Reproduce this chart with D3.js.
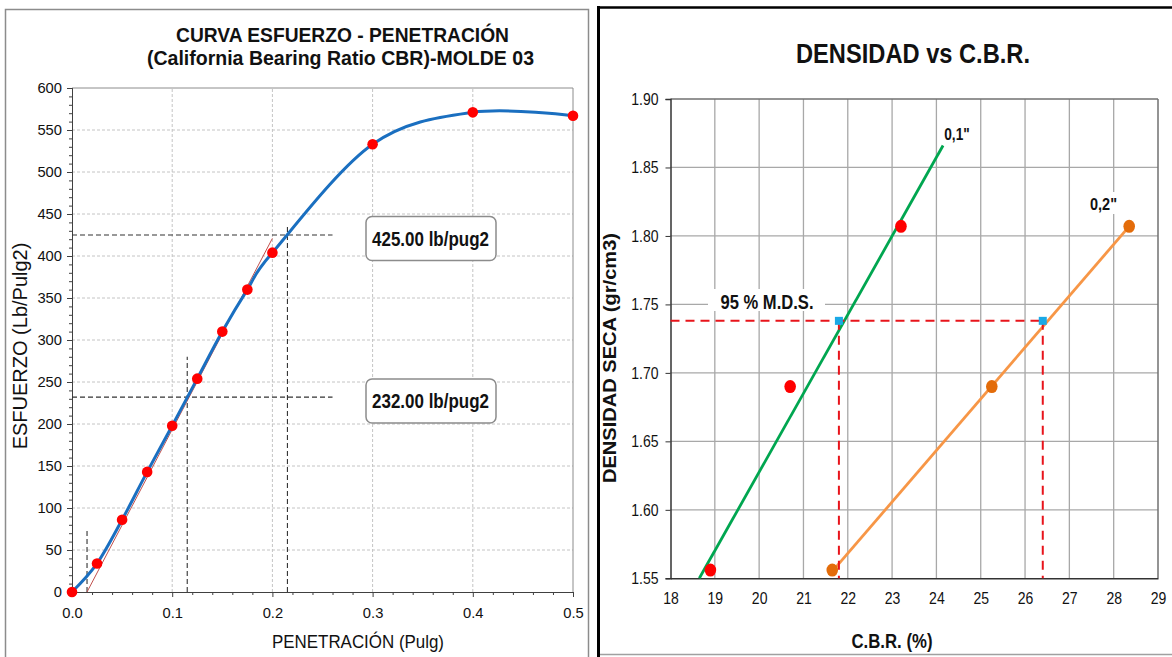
<!DOCTYPE html>
<html><head><meta charset="utf-8">
<script src="https://cdn.jsdelivr.net/npm/d3@7"></script>
<style>
body{margin:0;background:#fff}
svg{display:block}
text{font-family:"Liberation Sans",Arial,sans-serif;fill:#111}
</style>
</head><body>
<svg id="chart" width="1172" height="657"></svg>
<script>
// ---------- LEFT CHART DATA ----------
const penetration = [0, 0.025, 0.05, 0.075, 0.1, 0.125, 0.15, 0.175, 0.2, 0.3, 0.4, 0.5];
const stress      = [0, 34, 86, 143, 198, 254, 310, 360, 404, 533, 571, 567];
const penTicks    = [0, 0.1, 0.2, 0.3, 0.4, 0.5];
const penMinor    = [0.02,0.04,0.06,0.08,0.12,0.14,0.16,0.18,0.22,0.24,0.26,0.28,0.32,0.34,0.36,0.38,0.42,0.44,0.46,0.48];
const stressTicks = [0, 50, 100, 150, 200, 250, 300, 350, 400, 450, 500, 550, 600];
const stressMinor = [10,20,30,40,60,70,80,90,110,120,130,140,160,170,180,190,210,220,230,240,260,270,280,290,310,320,330,340,360,370,380,390,410,420,430,440,460,470,480,490,510,520,530,540,560,570,580,590];
const correctionLine = [[0.015, 0], [0.2, 421]];
const correctedPen   = [0.015, 0.115, 0.215];
const correctedTop   = [74, 280, 437];
const cbrStress      = [232, 425];
const cbrStressEnd   = 0.26;
const cbrLabels      = ["232.00 lb/pug2", "425.00 lb/pug2"];

// ---------- RIGHT CHART DATA ----------
const dryDensity = [1.556, 1.690, 1.807];
const cbr01      = [18.9, 20.7, 23.2];
const cbr02      = [21.65, 25.25, 28.35];
const fit01      = [[18.65, 1.55], [24.15, 1.866]];
const fit02      = [[21.65, 1.555], [28.35, 1.807]];
const mdsDensity = 1.738;
const cbrAtMds   = [21.8, 26.4];
const cbrTicks   = [18,19,20,21,22,23,24,25,26,27,28,29];
const densTicks  = [1.55,1.60,1.65,1.70,1.75,1.80,1.85,1.90];

const svg = d3.select("#chart");

function squeeze(sel, k){
  sel.each(function(){
    const w = this.getComputedTextLength();
    d3.select(this).attr("textLength", w*k).attr("lengthAdjust","spacingAndGlyphs");
  });
}
function label(g, x, y, str, o){
  const t = g.append("text").attr("x", x).attr("y", y).text(str)
    .attr("text-anchor", o.anchor || "middle")
    .style("font-size", o.size + "px")
    .style("font-weight", o.bold ? "bold" : "normal");
  if (o.rotate) t.attr("transform", `rotate(-90,${x},${y})`);
  if (o.width) t.attr("textLength", o.width).attr("lengthAdjust","spacingAndGlyphs");
  return t;
}

// ---------- PANEL FRAMES ----------
svg.append("rect").attr("x",5.5).attr("y",9.5).attr("width",583).attr("height",700)
  .attr("fill","none").attr("stroke","#8c8c8c").attr("stroke-width",1.5);
svg.append("line").attr("x1",598.5).attr("x2",598.5).attr("y1",6).attr("y2",657)
  .attr("stroke","#000").attr("stroke-width",3);
svg.append("line").attr("x1",597).attr("x2",1172).attr("y1",7.5).attr("y2",7.5)
  .attr("stroke","#000").attr("stroke-width",2.5);
svg.append("line").attr("x1",600).attr("x2",1172).attr("y1",654.5).attr("y2",654.5)
  .attr("stroke","#a0a0a0").attr("stroke-width",1.5);

// ================= LEFT CHART =================
const L = svg.append("g");
const xL = d3.scaleLinear().domain([0, 0.5]).range([72, 573]);
const yL = d3.scaleLinear().domain([0, 600]).range([592, 88]);

// grid
L.append("g").selectAll("line").data(penTicks.slice(1,5)).join("line")
  .attr("x1", d=>xL(d)).attr("x2", d=>xL(d)).attr("y1", yL(0)).attr("y2", yL(600))
  .attr("stroke","#c4c4c4").attr("stroke-dasharray","3,2");
L.append("g").selectAll("line").data(stressTicks.slice(1,12)).join("line")
  .attr("x1", xL(0)).attr("x2", xL(0.5)).attr("y1", d=>yL(d)).attr("y2", d=>yL(d))
  .attr("stroke","#c4c4c4").attr("stroke-dasharray","3,2");
// frame top/right
L.append("line").attr("x1",xL(0)).attr("x2",xL(0.5)).attr("y1",yL(600)).attr("y2",yL(600)).attr("stroke","#8c8c8c");
L.append("line").attr("x1",xL(0.5)).attr("x2",xL(0.5)).attr("y1",yL(600)).attr("y2",yL(0)).attr("stroke","#8c8c8c");

// axes
const axL = L.append("g").attr("transform",`translate(${xL(0)},0)`)
  .call(d3.axisLeft(yL).tickValues(stressTicks).tickSize(5).tickFormat(d3.format("d")));
const axLm = L.append("g").attr("transform",`translate(${xL(0)},0)`)
  .call(d3.axisLeft(yL).tickValues(stressMinor).tickSize(3).tickFormat(""));
const axB = L.append("g").attr("transform",`translate(0,${yL(0)})`)
  .call(d3.axisBottom(xL).tickValues(penTicks).tickSize(5).tickFormat(d3.format(".1f")));
const axBm = L.append("g").attr("transform",`translate(0,${yL(0)})`)
  .call(d3.axisBottom(xL).tickValues(penMinor).tickSize(3).tickFormat(""));
[axL, axLm, axB, axBm].forEach(a=>{
  a.select(".domain").attr("stroke","#404040");
  a.selectAll(".tick line").attr("stroke","#404040");
});
axL.selectAll("text").style("font-size","15.5px").attr("x",-10).attr("fill","#222").call(squeeze, 0.95);
axB.selectAll("text").style("font-size","15.5px").attr("y",15).attr("fill","#222").call(squeeze, 0.95);

// corrected penetration guides (dashed)
L.append("g").selectAll("line").data(correctedPen).join("line")
  .attr("x1", d=>xL(d)).attr("x2", d=>xL(d)).attr("y1", yL(0)).attr("y2", (d,i)=>yL(correctedTop[i]))
  .attr("stroke","#333").attr("stroke-width",1.1).attr("stroke-dasharray","5,3");
L.append("g").selectAll("line").data(cbrStress).join("line")
  .attr("x1", xL(0)).attr("x2", xL(cbrStressEnd)).attr("y1", d=>yL(d)).attr("y2", d=>yL(d))
  .attr("stroke","#333").attr("stroke-width",1.1).attr("stroke-dasharray","5,3");

// correction line (thin red)
L.append("path").datum(correctionLine)
  .attr("d", d3.line().x(d=>xL(d[0])).y(d=>yL(d[1])))
  .attr("stroke","#c0504d").attr("stroke-width",1).attr("fill","none");

// curve
const ptsL = penetration.map((p,i)=>[p, stress[i]]);
L.append("path").datum(ptsL)
  .attr("d", d3.line().x(d=>xL(d[0])).y(d=>yL(d[1])).curve(d3.curveCatmullRom.alpha(0)))
  .attr("stroke","#1a6fc0").attr("stroke-width",3).attr("fill","none");
L.append("g").selectAll("circle").data(ptsL).join("circle")
  .attr("cx", d=>xL(d[0])).attr("cy", d=>yL(d[1])).attr("r",5.3).attr("fill","#ff0000");

// annotation boxes
const boxY = [379, 216.5];
cbrLabels.forEach((s,i)=>{
  L.append("rect").attr("x",366).attr("y",boxY[i]).attr("width",130).attr("height",44)
    .attr("rx",6).attr("fill","#fff").attr("stroke","#8c8c8c").attr("stroke-width",1.5);
  label(L, 430.5, boxY[i]+29, s, {size:19.5, bold:true, width:117});
});

// titles
label(L, 342.5, 42, "CURVA ESFUERZO - PENETRACIÓN", {size:19.5, bold:true, width:333});
label(L, 340.5, 64.5, "(California Bearing Ratio CBR)-MOLDE 03", {size:19.5, bold:true, width:387});
label(L, 358, 648, "PENETRACIÓN (Pulg)", {size:19, width:172});
label(L, 26.5, 346, "ESFUERZO (Lb/Pulg2)", {size:20, rotate:true});

// ================= RIGHT CHART =================
const R = svg.append("g");
const xR = d3.scaleLinear().domain([18, 29]).range([670.5, 1158]);
const yR = d3.scaleLinear().domain([1.55, 1.90]).range([578.3, 99]);

R.append("g").selectAll("line").data(cbrTicks.slice(1,11)).join("line")
  .attr("x1", d=>xR(d)).attr("x2", d=>xR(d)).attr("y1", yR(1.55)).attr("y2", yR(1.90))
  .attr("stroke","#a8a8a8").attr("stroke-width",1.3);
R.append("g").selectAll("line").data(densTicks.slice(1,7)).join("line")
  .attr("x1", xR(18)).attr("x2", xR(29)).attr("y1", d=>yR(d)).attr("y2", d=>yR(d))
  .attr("stroke","#a8a8a8").attr("stroke-width",1.3);
R.append("line").attr("x1",xR(18)).attr("x2",xR(29)).attr("y1",yR(1.90)).attr("y2",yR(1.90)).attr("stroke","#707070").attr("stroke-width",1.5);
R.append("line").attr("x1",xR(29)).attr("x2",xR(29)).attr("y1",yR(1.90)).attr("y2",yR(1.55)).attr("stroke","#707070").attr("stroke-width",1.5);

const axRL = R.append("g").attr("transform",`translate(${xR(18)},0)`)
  .call(d3.axisLeft(yR).tickValues(densTicks).tickSize(5).tickFormat(d3.format(".2f")));
const axRB = R.append("g").attr("transform",`translate(0,${yR(1.55)})`)
  .call(d3.axisBottom(xR).tickValues(cbrTicks).tickSize(0).tickFormat(d3.format("d")));
[axRL, axRB].forEach(a=>{
  a.select(".domain").attr("stroke","#333").attr("stroke-width",1.5);
  a.selectAll(".tick line").attr("stroke","#333");
});
axRL.selectAll("text").style("font-size","16.5px").attr("x",-12).attr("fill","#222").call(squeeze, 0.85);
axRB.selectAll("text").style("font-size","16.5px").attr("y",14).attr("fill","#222").call(squeeze, 0.85);

// fit lines
const lineR = d3.line().x(d=>xR(d[0])).y(d=>yR(d[1]));
R.append("path").datum(fit01).attr("d", lineR).attr("stroke","#00a650").attr("stroke-width",2.8).attr("fill","none");
R.append("path").datum(fit02).attr("d", lineR).attr("stroke","#f79646").attr("stroke-width",2.8).attr("fill","none");

// 95% MDS dashed guides
R.append("line").attr("x1",xR(18)).attr("x2",xR(cbrAtMds[1])).attr("y1",yR(mdsDensity)).attr("y2",yR(mdsDensity))
  .attr("stroke","#e8141b").attr("stroke-width",2).attr("stroke-dasharray","9,6");
R.append("g").selectAll("line").data(cbrAtMds).join("line")
  .attr("x1", d=>xR(d)).attr("x2", d=>xR(d)).attr("y1", yR(mdsDensity)).attr("y2", yR(1.55))
  .attr("stroke","#e8141b").attr("stroke-width",2).attr("stroke-dasharray","9,6");
R.append("g").selectAll("rect").data(cbrAtMds).join("rect")
  .attr("x", d=>xR(d)-4).attr("y", yR(mdsDensity)-4).attr("width",8).attr("height",8).attr("fill","#1aa9e6");

// points
R.append("g").selectAll("ellipse").data(cbr01).join("ellipse")
  .attr("cx", d=>xR(d)).attr("cy", (d,i)=>yR(dryDensity[i])).attr("rx",5.8).attr("ry",6.5).attr("fill","#ff0000");
R.append("g").selectAll("ellipse").data(cbr02).join("ellipse")
  .attr("cx", d=>xR(d)).attr("cy", (d,i)=>yR(dryDensity[i])).attr("rx",5.8).attr("ry",6.5).attr("fill","#e36c0a");

// labels with white background
R.append("rect").attr("x",708).attr("y",289).attr("width",117).attr("height",22).attr("fill","#fff");
label(R, 767, 308.5, "95 % M.D.S.", {size:20, bold:true, width:93});
R.append("rect").attr("x",1088).attr("y",192).attr("width",32).attr("height",22).attr("fill","#fff");
label(R, 957, 140, "0,1\"", {size:16.5, bold:true, width:25.5});
label(R, 1103.5, 210, "0,2\"", {size:16.5, bold:true, width:27});

// titles
label(R, 913, 63, "DENSIDAD vs C.B.R.", {size:28, bold:true, width:234});
label(R, 892, 648, "C.B.R. (%)", {size:20, bold:true, width:81});
label(R, 615.5, 358, "DENSIDAD SECA (gr/cm3)", {size:19, bold:true, rotate:true, width:250});
</script>
</body></html>
